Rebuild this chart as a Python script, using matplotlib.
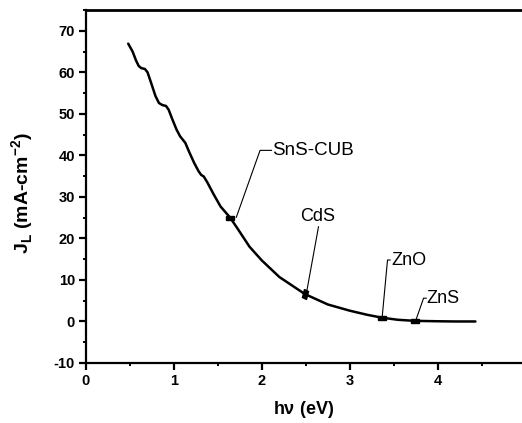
import matplotlib
matplotlib.use("Agg")
import matplotlib.pyplot as plt
import numpy as np
from matplotlib.markers import MarkerStyle
from matplotlib.transforms import Affine2D
from matplotlib.ticker import MultipleLocator

plt.rcParams['font.family'] = ['Liberation Sans', 'DejaVu Sans']
plt.rcParams['mathtext.fontset'] = 'custom'
plt.rcParams['mathtext.rm'] = 'Liberation Sans'
plt.rcParams['mathtext.bf'] = 'Liberation Sans:bold'
plt.rcParams['axes.unicode_minus'] = False

# Curve data
energy = [0.48, 0.53, 0.57, 0.60, 0.63, 0.67, 0.70, 0.74, 0.79, 0.83, 0.87, 0.91,
          0.94, 0.98, 1.03, 1.07, 1.10, 1.13, 1.17, 1.23, 1.28, 1.31, 1.34, 1.38,
          1.45, 1.53, 1.64, 1.72, 1.86, 2.0, 2.2, 2.49, 2.75, 3.0, 3.2, 3.37, 3.55,
          3.74, 4.0, 4.2, 4.43]
jl = [66.9, 65.0, 62.8, 61.5, 61.0, 60.8, 60.0, 57.5, 54.3, 52.6, 52.1, 51.9,
      51.0, 48.8, 46.2, 44.6, 43.8, 43.0, 41.0, 38.2, 36.2, 35.3, 34.9, 33.5,
      30.7, 27.7, 25.0, 22.5, 18.0, 14.7, 10.7, 6.6, 4.1, 2.6, 1.6, 0.9, 0.4,
      0.15, 0.05, 0.0, 0.0]

# Materials (band gaps)
materials = ['SnS-CUB', 'CdS', 'ZnO', 'ZnS']
gaps = [1.64, 2.49, 3.37, 3.74]

xticks = [0, 1, 2, 3, 4]
yticks = [-10, 0, 10, 20, 30, 40, 50, 60, 70]

fig = plt.figure(figsize=(5.22, 4.23), dpi=100)
ax = fig.add_axes([86/522, 60/423, 1 - 86/522, 353/423])

ax.plot(energy, jl, color='black', lw=1.8, solid_capstyle='round', zorder=3)

marker_y = np.interp(gaps, energy, jl)
leaders = {
    'SnS-CUB': dict(start=(0.07, 0.1), elbow=(1.98, 41.2), hend=2.11, text=(2.12, 41.2), ha='left', va='center', fs=13.5),
    'CdS': dict(start=(0.02, 0.5), elbow=(2.645, 22.8), hend=None, text=(2.64, 23.3), ha='center', va='bottom', fs=13),
    'ZnO': dict(start=(0.0, 0.3), elbow=(3.43, 14.8), hend=3.46, text=(3.47, 14.8), ha='left', va='center', fs=13),
    'ZnS': dict(start=(0.015, 0.3), elbow=(3.84, 5.6), hend=3.87, text=(3.875, 5.6), ha='left', va='center', fs=13),
}
for name, g, my in zip(materials, gaps, marker_y):
    if name == 'CdS':
        ms = MarkerStyle('s', transform=Affine2D().scale(1, 2).rotate_deg(-20))
    else:
        ms = MarkerStyle('s', transform=Affine2D().scale(2, 1))
    ax.plot([g], [my], linestyle='none', marker=ms, markersize=3.0,
            color='black', zorder=4)
    L = leaders[name]
    sx, sy = g + L['start'][0], my + L['start'][1]
    xs = [sx, L['elbow'][0]]
    ys = [sy, L['elbow'][1]]
    if L['hend'] is not None:
        xs.append(L['hend'])
        ys.append(L['elbow'][1])
    ax.plot(xs, ys, color='black', lw=0.8, zorder=4)
    ax.text(L['text'][0], L['text'][1], name, fontsize=L['fs'], ha=L['ha'], va=L['va'])

ax.set_xlim(0, 4.96)
ax.set_ylim(-10, 75)
ax.set_xticks(xticks)
ax.set_yticks(yticks)
ax.xaxis.set_minor_locator(MultipleLocator(0.5))
ax.yaxis.set_minor_locator(MultipleLocator(5))

for lab in ax.get_xticklabels() + ax.get_yticklabels():
    lab.set_fontweight('bold')
    lab.set_fontsize(10.5)

ax.tick_params(which='major', direction='out', length=5, width=1.6, pad=3)
ax.tick_params(which='minor', direction='out', length=2.5, width=1.4)
ax.tick_params(top=False, right=False)
ax.spines['left'].set_linewidth(1.6)
ax.spines['bottom'].set_linewidth(1.6)
ax.spines['top'].set_linewidth(2.0)
ax.spines['right'].set_visible(False)

ax.set_xlabel(r'h$\mathbf{\nu}$ (eV)', fontsize=13, fontweight='bold', labelpad=8)
ax.set_ylabel(r'J$_\mathbf{L}$ (mA-cm$^\mathbf{-2}$)', fontsize=14, fontweight='bold')
ax.yaxis.set_label_coords(-0.115, 0.48)

fig.savefig('out.png', dpi=100)
